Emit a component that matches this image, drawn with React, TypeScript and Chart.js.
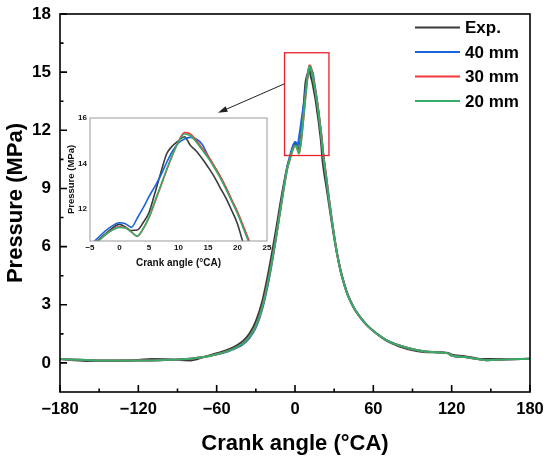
import { useEffect, useRef } from "react";
import { Chart, registerables } from "chart.js";

Chart.register(...registerables);

// crank angle samples (°CA), shared by all series
const crankAngle = [
  -180, -160, -140, -120, -110, -100, -80, -70, -60, -50,
  -40, -35, -30, -25, -20, -15, -10, -6, -4, -2,
  0, 1, 2, 3, 4, 5, 6, 7, 8, 9, 10, 11, 12, 13, 14, 15, 16, 17, 18, 19, 20, 21, 22,
  24, 26, 28, 30, 32, 35, 37, 40, 45, 50,
  55, 60, 70, 80, 93, 105, 118, 119, 130, 140,
  147, 160, 180,
];

// pressure (MPa)
const expPressure = [
  0.2, 0.1, 0.1, 0.15, 0.2, 0.19, 0.13, 0.3, 0.5, 0.72,
  1.12, 1.5, 2.15, 3.2, 4.8, 6.7, 8.7, 10.1, 10.55, 11.0,
  11.33, 11.22, 11.06, 11.08, 11.4, 11.85, 12.7, 13.6, 14.43, 14.78, 15.0, 15.18, 14.8, 14.55, 14.22, 13.85, 13.45, 12.97, 12.5, 11.95, 11.35, 10.5, 9.95,
  9.1, 8.2, 7.3, 6.45, 5.7, 4.75, 4.25, 3.6, 2.85, 2.35,
  1.95, 1.65, 1.15, 0.85, 0.62, 0.55, 0.5, 0.45, 0.35, 0.22,
  0.2, 0.2, 0.2,
];

const p40mm = [
  0.2, 0.15, 0.12, 0.12, 0.13, 0.15, 0.22, 0.3, 0.44, 0.63,
  0.95, 1.28, 1.82, 2.8, 4.3, 6.25, 8.5, 10.1, 10.65, 11.12,
  11.4, 11.36, 11.2, 11.6, 12.05, 12.55, 13.0, 13.48, 14.05, 14.55, 14.9, 15.08, 15.15, 15.08, 14.85, 14.35, 13.9, 13.45, 12.95, 12.4, 11.85, 11.2, 10.55,
  9.5, 8.45, 7.45, 6.55, 5.72, 4.72, 4.22, 3.57, 2.86, 2.36,
  1.96, 1.65, 1.18, 0.9, 0.67, 0.56, 0.48, 0.41, 0.3, 0.2,
  0.14, 0.18, 0.22,
];

const p30mm = [
  0.2, 0.15, 0.12, 0.12, 0.13, 0.15, 0.22, 0.3, 0.45, 0.65,
  1.0, 1.35, 1.9, 2.9, 4.4, 6.3, 8.4, 10.0, 10.5, 10.95,
  11.22, 11.18, 11.0, 10.8, 11.12, 11.62, 12.3, 13.0, 13.72, 14.38, 14.97, 15.36, 15.3, 15.02, 14.68, 14.32, 13.92, 13.48, 12.98, 12.42, 11.88, 11.25, 10.6,
  9.6, 8.5, 7.5, 6.58, 5.72, 4.72, 4.22, 3.56, 2.85, 2.35,
  1.95, 1.65, 1.18, 0.9, 0.67, 0.56, 0.48, 0.41, 0.3, 0.2,
  0.14, 0.18, 0.22,
];

const p20mm = [
  0.2, 0.15, 0.12, 0.12, 0.13, 0.15, 0.22, 0.3, 0.45, 0.65,
  1.0, 1.35, 1.9, 2.9, 4.4, 6.3, 8.4, 10.0, 10.5, 10.95,
  11.2, 11.17, 11.0, 10.82, 11.15, 11.65, 12.35, 13.05, 13.75, 14.4, 14.95, 15.3, 15.22, 14.95, 14.6, 14.25, 13.85, 13.4, 12.9, 12.35, 11.8, 11.15, 10.5,
  9.5, 8.45, 7.45, 6.55, 5.7, 4.7, 4.2, 3.55, 2.85, 2.35,
  1.95, 1.65, 1.18, 0.9, 0.67, 0.56, 0.48, 0.41, 0.3, 0.2,
  0.14, 0.18, 0.22,
];

const seriesLabels = ["Exp.", "40 mm", "30 mm", "20 mm"];
const seriesValues = [expPressure, p40mm, p30mm, p20mm];
const seriesColors = ["#3a3a3a", "#1a64dc", "#f03a3a", "#35ad68"];

const xTicksMain = [-180, -120, -60, 0, 60, 120, 180];
const yTicksMain = [0, 3, 6, 9, 12, 15, 18];
const xTicksInset = [-5, 0, 5, 10, 15, 20, 25];
const yTicksInset = [12, 14, 16];

// zoom box and arrow, in main-chart data units
const zoomBox = { x0: -8, x1: 26, y0: 10.7, y1: 16 };
const arrowFrom = { x: -8, y: 14.4 };
const arrowTo = { x: -59, y: 12.9 };

const FONT = "'Liberation Sans', Arial, sans-serif";

const minus = (v: number) => (v < 0 ? "\u2212" + Math.abs(v) : String(v));
const mids = (arr: number[]) => arr.slice(1).map((v, i) => (v + arr[i]) / 2);

function makeDatasets(width: number) {
  return seriesLabels.map((label, i) => ({
    label,
    data: crankAngle.map((a, j) => ({ x: a, y: seriesValues[i][j] })),
    borderColor: seriesColors[i],
    borderWidth: width,
    pointRadius: 0,
    cubicInterpolationMode: "monotone" as const,
    order: seriesLabels.length - 1 - i,
  }));
}

// keep tick labels from pushing the plot area around
const noScalePadding = (s: any) => {
  s.paddingTop = 0;
  s.paddingBottom = 0;
  s.paddingLeft = 0;
  s.paddingRight = 0;
};

// box round the plot and inward tick marks on the bottom and left axes
function framePlugin(color: string, width: number, withTicks: boolean) {
  return {
    id: "frame",
    afterDraw(chart: any) {
      const { ctx, chartArea: a, scales } = chart;
      ctx.save();
      ctx.strokeStyle = color;
      ctx.lineWidth = width;
      ctx.strokeRect(a.left, a.top, a.right - a.left, a.bottom - a.top);
      if (withTicks) {
        const x = scales.x;
        const y = scales.y;
        ctx.beginPath();
        xTicksMain.forEach((v) => {
          const px = x.getPixelForValue(v);
          ctx.moveTo(px, a.bottom);
          ctx.lineTo(px, a.bottom - 7);
        });
        mids(xTicksMain).forEach((v) => {
          const px = x.getPixelForValue(v);
          ctx.moveTo(px, a.bottom);
          ctx.lineTo(px, a.bottom - 3.5);
        });
        yTicksMain.forEach((v) => {
          const py = y.getPixelForValue(v);
          ctx.moveTo(a.left, py);
          ctx.lineTo(a.left + 7, py);
        });
        mids(yTicksMain).forEach((v) => {
          const py = y.getPixelForValue(v);
          ctx.moveTo(a.left, py);
          ctx.lineTo(a.left + 3.5, py);
        });
        ctx.stroke();
      }
      ctx.restore();
    },
  };
}

const legendPlugin = {
  id: "innerLegend",
  afterDraw(chart: any) {
    const { ctx, chartArea: a } = chart;
    ctx.save();
    ctx.font = `bold 17px ${FONT}`;
    ctx.textBaseline = "middle";
    ctx.fillStyle = "#000";
    seriesLabels.forEach((label, i) => {
      const yy = a.top + 13.5 + i * 24.5;
      ctx.strokeStyle = seriesColors[i];
      ctx.lineWidth = 2;
      ctx.beginPath();
      ctx.moveTo(a.right - 115, yy);
      ctx.lineTo(a.right - 70, yy);
      ctx.stroke();
      ctx.fillText(label, a.right - 65, yy + 1);
    });
    ctx.restore();
  },
};

const zoomPlugin = {
  id: "zoomMark",
  afterDatasetsDraw(chart: any) {
    const { ctx, scales } = chart;
    const x = scales.x;
    const y = scales.y;
    ctx.save();
    ctx.strokeStyle = "#e8202a";
    ctx.lineWidth = 1.3;
    const l = x.getPixelForValue(zoomBox.x0);
    const r = x.getPixelForValue(zoomBox.x1);
    const t = y.getPixelForValue(zoomBox.y1);
    const b = y.getPixelForValue(zoomBox.y0);
    ctx.strokeRect(l, t, r - l, b - t);

    const x1 = x.getPixelForValue(arrowFrom.x);
    const y1 = y.getPixelForValue(arrowFrom.y);
    const x2 = x.getPixelForValue(arrowTo.x);
    const y2 = y.getPixelForValue(arrowTo.y);
    const ang = Math.atan2(y2 - y1, x2 - x1);
    ctx.strokeStyle = "#222";
    ctx.fillStyle = "#222";
    ctx.lineWidth = 1;
    ctx.beginPath();
    ctx.moveTo(x1, y1);
    ctx.lineTo(x2 - 6 * Math.cos(ang), y2 - 6 * Math.sin(ang));
    ctx.stroke();
    ctx.beginPath();
    ctx.moveTo(x2, y2);
    ctx.lineTo(x2 - 10 * Math.cos(ang - 0.3), y2 - 10 * Math.sin(ang - 0.3));
    ctx.lineTo(x2 - 10 * Math.cos(ang + 0.3), y2 - 10 * Math.sin(ang + 0.3));
    ctx.closePath();
    ctx.fill();
    ctx.restore();
  },
};

function MainChart() {
  const canvasRef = useRef<HTMLCanvasElement>(null);

  useEffect(() => {
    if (!canvasRef.current) return;
    const chart = new Chart(canvasRef.current, {
      type: "line",
      data: { datasets: makeDatasets(2) as any },
      options: {
        animation: false,
        responsive: true,
        maintainAspectRatio: false,
        layout: { padding: { top: 14, right: 20, left: 0, bottom: 0 } },
        plugins: { legend: { display: false }, tooltip: { enabled: false } },
        scales: {
          x: {
            type: "linear",
            min: -180,
            max: 180,
            afterBuildTicks: (s: any) => {
              s.ticks = xTicksMain.map((v) => ({ value: v }));
            },
            afterFit: (s: any) => {
              s.height = 69;
              noScalePadding(s);
            },
            grid: { display: false, drawTicks: false },
            border: { display: false },
            ticks: {
              padding: 8,
              color: "#000",
              autoSkip: false,
              maxRotation: 0,
              font: { family: FONT, size: 16.5, weight: "bold" },
              callback: (v: any) => minus(Number(v)),
            },
            title: {
              display: true,
              text: "Crank angle (°CA)",
              color: "#000",
              padding: { top: 0, bottom: 4 },
              font: { family: FONT, size: 22, weight: "bold" },
            },
          },
          y: {
            type: "linear",
            min: -1.5,
            max: 18,
            afterBuildTicks: (s: any) => {
              s.ticks = yTicksMain.map((v) => ({ value: v }));
            },
            afterFit: (s: any) => {
              s.width = 60;
              noScalePadding(s);
            },
            grid: { display: false, drawTicks: false },
            border: { display: false },
            ticks: {
              padding: 9,
              color: "#000",
              font: { family: FONT, size: 17, weight: "bold" },
              callback: (v: any) => minus(Number(v)),
            },
            title: {
              display: true,
              text: "Pressure (MPa)",
              color: "#000",
              padding: { top: 3, bottom: 0 },
              font: { family: FONT, size: 22, weight: "bold" },
            },
          },
        },
      },
      plugins: [framePlugin("#000", 1.6, true), legendPlugin, zoomPlugin],
    });
    return () => chart.destroy();
  }, []);

  return <canvas ref={canvasRef} />;
}

function InsetChart() {
  const canvasRef = useRef<HTMLCanvasElement>(null);

  useEffect(() => {
    if (!canvasRef.current) return;
    const chart = new Chart(canvasRef.current, {
      type: "line",
      data: { datasets: makeDatasets(1.6) as any },
      options: {
        animation: false,
        responsive: true,
        maintainAspectRatio: false,
        layout: { padding: { top: 8, right: 8, left: 0, bottom: 0 } },
        plugins: { legend: { display: false }, tooltip: { enabled: false } },
        scales: {
          x: {
            type: "linear",
            min: -5,
            max: 25,
            afterBuildTicks: (s: any) => {
              s.ticks = xTicksInset.map((v) => ({ value: v }));
            },
            afterFit: (s: any) => {
              s.height = 34;
              noScalePadding(s);
            },
            grid: { display: false, drawTicks: false },
            border: { display: false },
            ticks: {
              padding: 2,
              color: "#111",
              autoSkip: false,
              maxRotation: 0,
              font: { family: FONT, size: 8, weight: "bold" },
              callback: (v: any) => minus(Number(v)),
            },
            title: {
              display: true,
              text: "Crank angle (°CA)",
              color: "#111",
              padding: { top: 0, bottom: 6 },
              font: { family: FONT, size: 10, weight: "bold" },
            },
          },
          y: {
            type: "linear",
            min: 10.6,
            max: 16,
            afterBuildTicks: (s: any) => {
              s.ticks = yTicksInset.map((v) => ({ value: v }));
            },
            afterFit: (s: any) => {
              s.width = 30;
              noScalePadding(s);
            },
            grid: { display: false, drawTicks: false },
            border: { display: false },
            ticks: {
              padding: 3,
              color: "#111",
              font: { family: FONT, size: 8, weight: "bold" },
            },
            title: {
              display: true,
              text: "Pressure (MPa)",
              color: "#111",
              padding: { top: 6, bottom: 0 },
              font: { family: FONT, size: 9.5, weight: "bold" },
            },
          },
        },
      },
      plugins: [framePlugin("#9a9a9a", 1, false)],
    });
    return () => chart.destroy();
  }, []);

  return <canvas ref={canvasRef} />;
}

export default function App() {
  return (
    <div style={{ position: "absolute", left: 0, top: 0, width: 550, height: 461, background: "#fff" }}>
      <div style={{ position: "absolute", left: 0, top: 0, width: 550, height: 461 }}>
        <MainChart />
      </div>
      <div style={{ position: "absolute", left: 60, top: 110, width: 215, height: 165 }}>
        <InsetChart />
      </div>
    </div>
  );
}
